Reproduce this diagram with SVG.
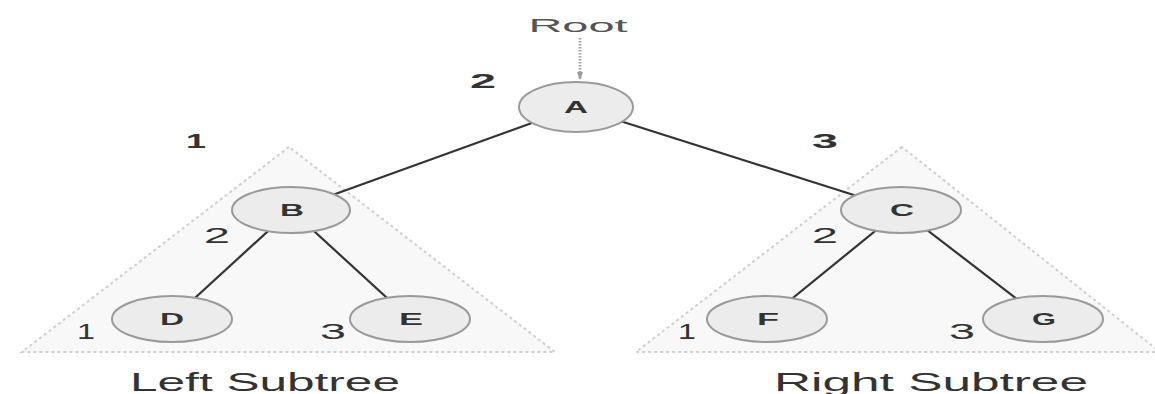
<svg xmlns="http://www.w3.org/2000/svg" width="1155" height="394" viewBox="0 0 1155 394">
<defs>
<style>
.tri{fill:#f8f8f8;stroke:#cfcfcf;stroke-width:2;stroke-dasharray:3 3}
.node ellipse{fill:#ececec;stroke:#9a9a9a;stroke-width:2}
.node text{font-family:"Liberation Sans",Arial,sans-serif;font-weight:bold;font-size:16px;fill:#333;text-anchor:middle}
.edge{stroke:#333;stroke-width:2.2;fill:none}
.num{font-family:"Liberation Sans",Arial,sans-serif;font-size:22px;fill:#333;text-anchor:middle}
.bnum{font-family:"Liberation Sans",Arial,sans-serif;font-size:21px;font-weight:bold;fill:#333;text-anchor:middle}
.cap{font-family:"Liberation Sans",Arial,sans-serif;font-size:25px;fill:#333;text-anchor:middle}
</style>
<marker id="ah" viewBox="0 0 10 10" refX="10" refY="5" markerWidth="8" markerHeight="6" markerUnits="userSpaceOnUse" orient="auto" preserveAspectRatio="none">
<path d="M0,0 L10,5 L0,10 Z" fill="#9a9a9a"/>
</marker>
</defs>
<rect width="1155" height="394" fill="#fff"/>
<g id="subtrees">
<polygon class="tri" points="289,147 22,352 555,352"/>
<polygon class="tri" points="902,147 636,352 1160,352"/>
</g>
<g id="root-pointer">
<text x="578" y="32" font-family="'Liberation Sans',Arial,sans-serif" font-size="19" fill="#555" text-anchor="middle" textLength="99" lengthAdjust="spacingAndGlyphs">Root</text>
<line x1="580" y1="38" x2="580" y2="80" stroke="#a8a8a8" stroke-width="3" stroke-dasharray="1.5 1.5" marker-end="url(#ah)"/>
</g>
<g id="connectors">
<line class="edge" x1="576" y1="107" x2="291" y2="210"/>
<line class="edge" x1="576" y1="107" x2="901" y2="210"/>
<line class="edge" x1="291" y1="210" x2="172" y2="319"/>
<line class="edge" x1="291" y1="210" x2="410" y2="319"/>
<line class="edge" x1="901" y1="210" x2="767" y2="319"/>
<line class="edge" x1="901" y1="210" x2="1043" y2="319"/>
</g>
<g id="node-A" class="node"><ellipse cx="576" cy="107" rx="57" ry="25"/><text x="576" y="113" textLength="24" lengthAdjust="spacingAndGlyphs">A</text></g>
<g id="node-B" class="node"><ellipse cx="291" cy="210" rx="59" ry="23"/><text x="292" y="216" textLength="24" lengthAdjust="spacingAndGlyphs">B</text></g>
<g id="node-C" class="node"><ellipse cx="901" cy="210" rx="60" ry="23"/><text x="902" y="216" textLength="24" lengthAdjust="spacingAndGlyphs">C</text></g>
<g id="node-D" class="node"><ellipse cx="172" cy="319" rx="60" ry="23"/><text x="172" y="325" textLength="24" lengthAdjust="spacingAndGlyphs">D</text></g>
<g id="node-E" class="node"><ellipse cx="410" cy="319" rx="60" ry="23"/><text x="411" y="325" textLength="24" lengthAdjust="spacingAndGlyphs">E</text></g>
<g id="node-F" class="node"><ellipse cx="767" cy="319" rx="60" ry="23"/><text x="768" y="325" textLength="22" lengthAdjust="spacingAndGlyphs">F</text></g>
<g id="node-G" class="node"><ellipse cx="1043" cy="319" rx="60" ry="23"/><text x="1044" y="325" textLength="24" lengthAdjust="spacingAndGlyphs">G</text></g>
<g id="numbers">
<text class="bnum" x="483" y="88" textLength="26" lengthAdjust="spacingAndGlyphs">2</text>
<text class="bnum" x="196" y="148" textLength="20" lengthAdjust="spacingAndGlyphs">1</text>
<text class="bnum" x="825" y="148" textLength="26" lengthAdjust="spacingAndGlyphs">3</text>
<text class="num" x="217" y="243" textLength="26" lengthAdjust="spacingAndGlyphs">2</text>
<text class="num" x="86" y="339" textLength="18" lengthAdjust="spacingAndGlyphs">1</text>
<text class="num" x="333" y="339" textLength="26" lengthAdjust="spacingAndGlyphs">3</text>
<text class="num" x="825" y="243" textLength="26" lengthAdjust="spacingAndGlyphs">2</text>
<text class="num" x="687" y="339" textLength="18" lengthAdjust="spacingAndGlyphs">1</text>
<text class="num" x="962" y="339" textLength="26" lengthAdjust="spacingAndGlyphs">3</text>
</g>
<g id="captions">
<text class="cap" x="265" y="391" textLength="270" lengthAdjust="spacingAndGlyphs">Left Subtree</text>
<text class="cap" x="931" y="391" textLength="314" lengthAdjust="spacingAndGlyphs">Right Subtree</text>
</g>
</svg>
